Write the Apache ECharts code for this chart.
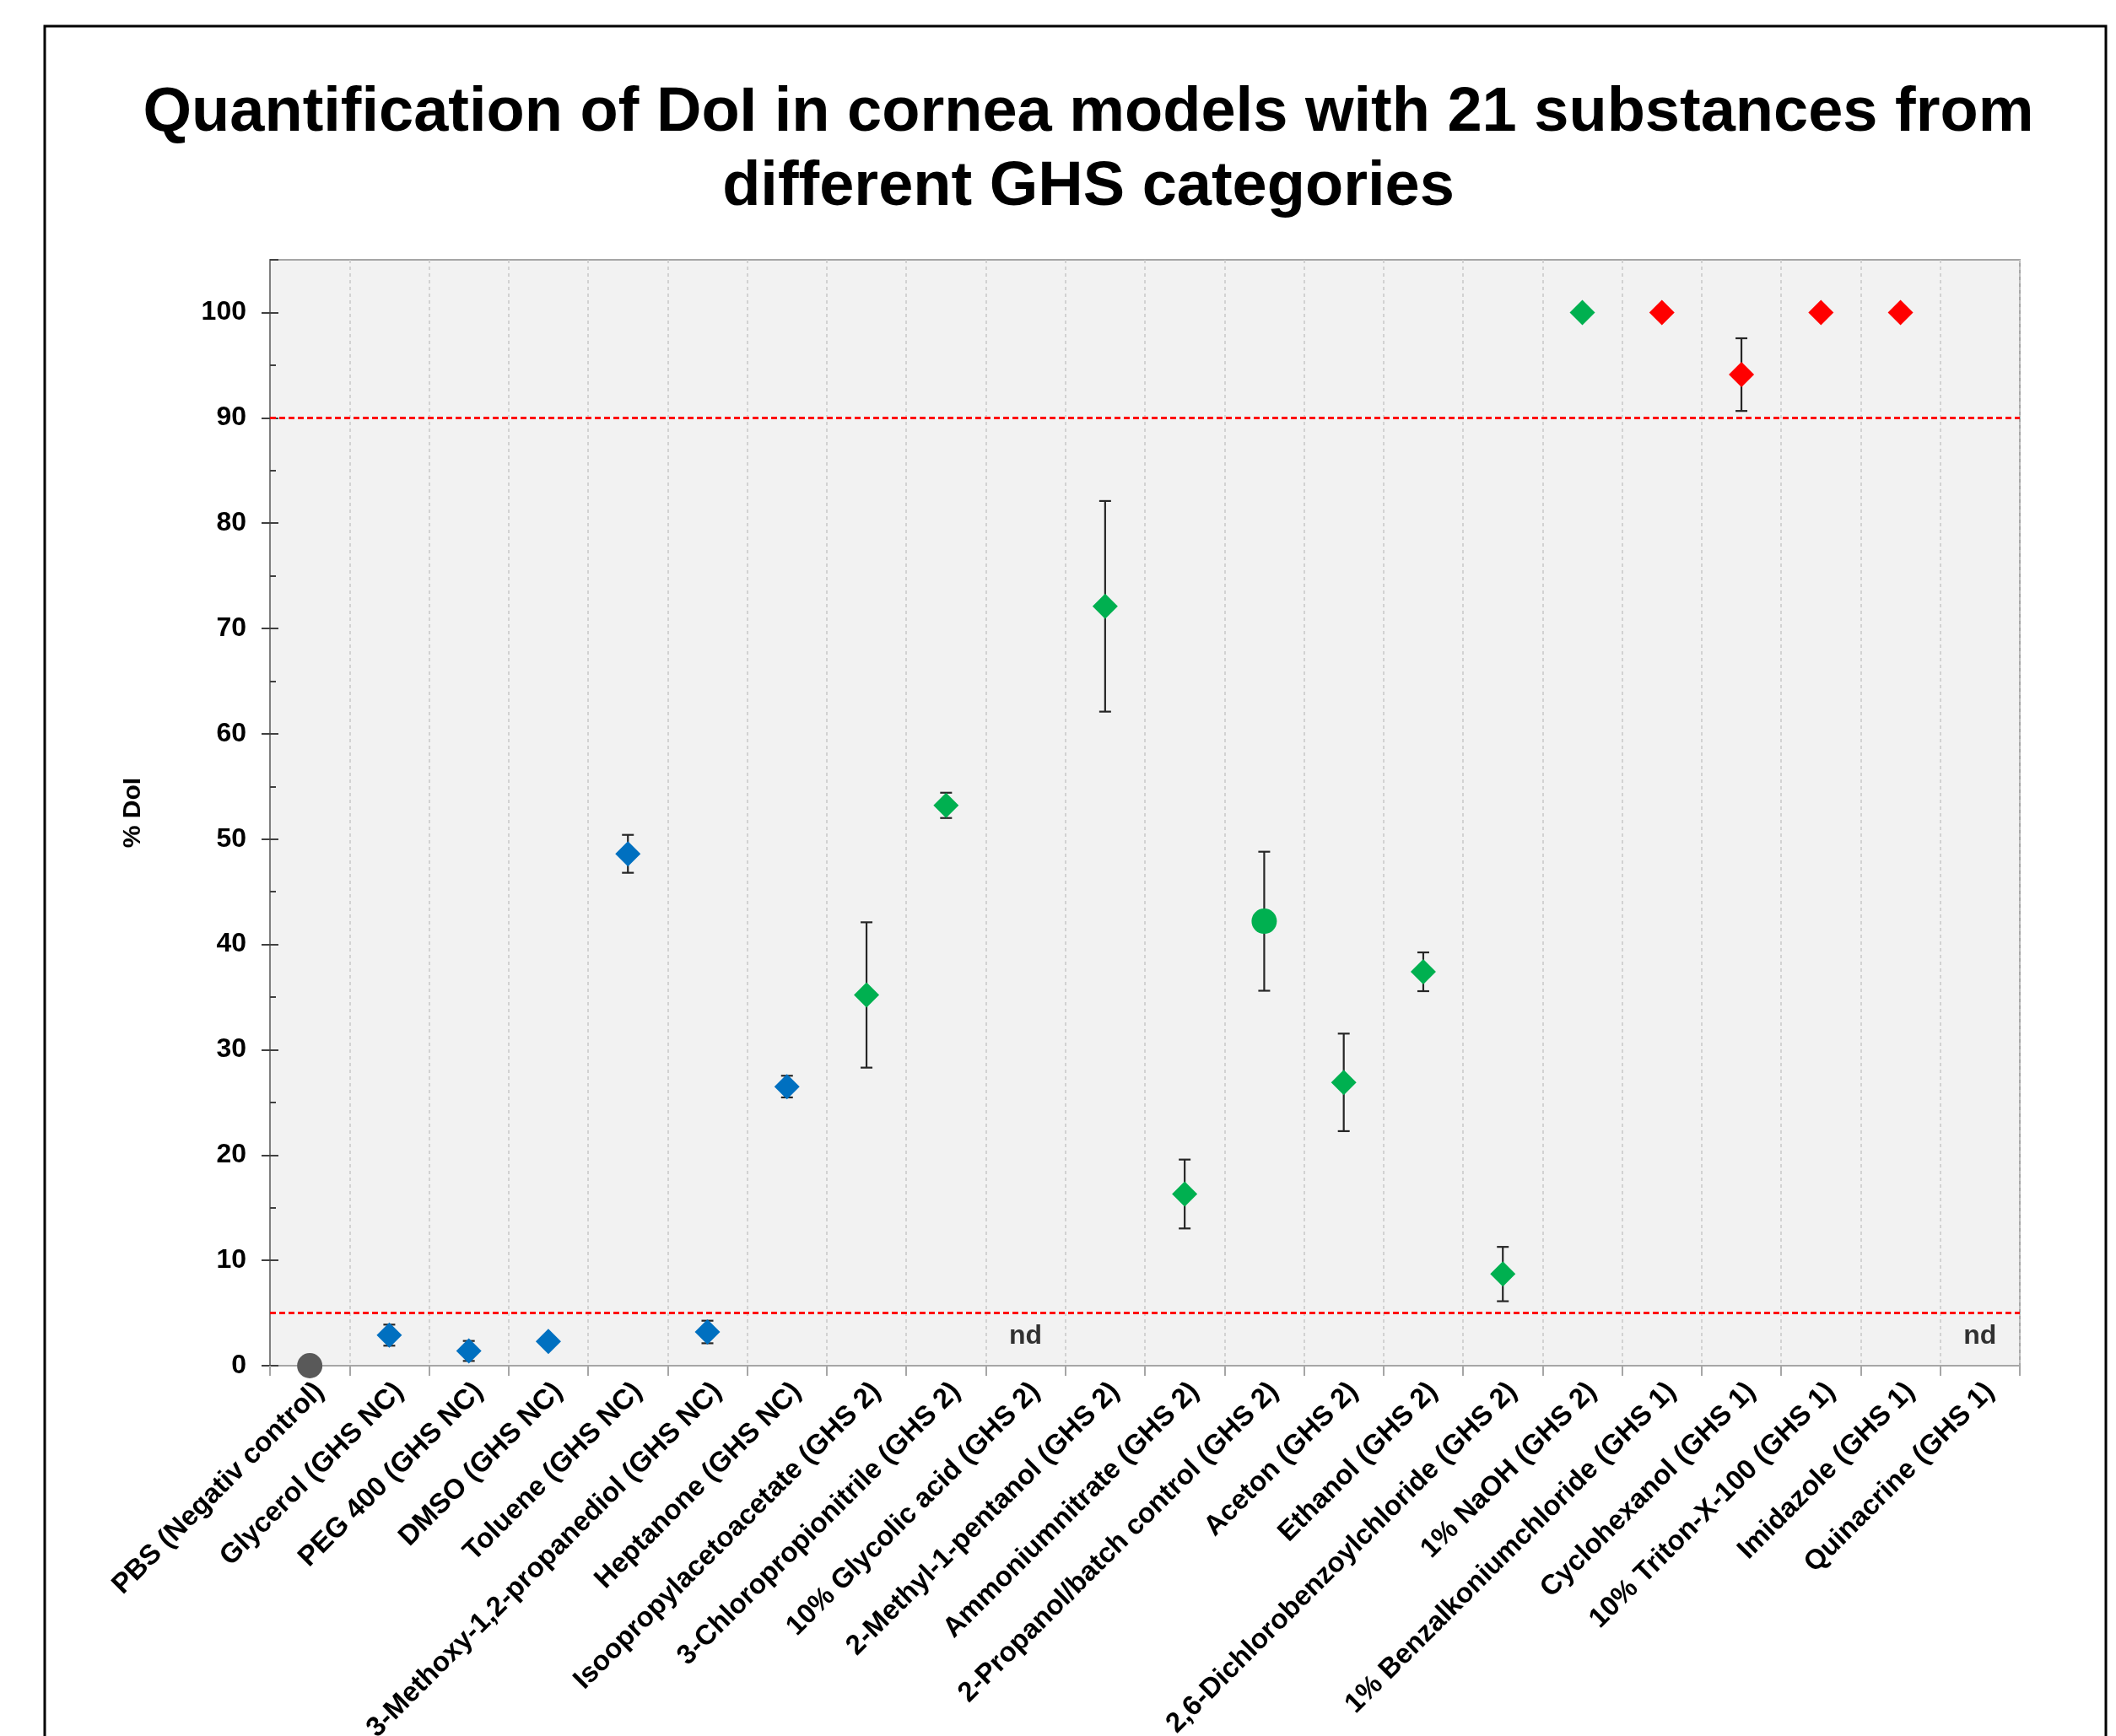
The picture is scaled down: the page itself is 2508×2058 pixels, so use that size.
<!DOCTYPE html>
<html>
<head>
<meta charset="utf-8">
<script src="https://cdn.jsdelivr.net/npm/echarts@6/dist/echarts.min.js"></script>
<style>
  html, body { margin: 0; padding: 0; background: #ffffff; }
  #chart { width: 2508px; height: 2058px; }
</style>
</head>
<body>
<div id="chart"></div>
<script>
// ---------------- data ----------------
const categories = [
  'PBS (Negativ control)', 'Glycerol (GHS NC)', 'PEG 400 (GHS NC)', 'DMSO (GHS NC)',
  'Toluene (GHS NC)', '3-Methoxy-1,2-propanediol (GHS NC)', 'Heptanone (GHS NC)',
  'Isoopropylacetoacetate (GHS 2)', '3-Chloropropionitrile (GHS 2)', '10% Glycolic acid (GHS 2)',
  '2-Methyl-1-pentanol (GHS 2)', 'Ammoniumnitrate (GHS 2)', '2-Propanol/batch control (GHS 2)',
  'Aceton (GHS 2)', 'Ethanol (GHS 2)', '2,6-Dichlorobenzoylchloride (GHS 2)', '1% NaOH (GHS 2)',
  '1% Benzalkoniumchloride (GHS 1)', 'Cyclohexanol (GHS 1)', '10% Triton-X-100 (GHS 1)',
  'Imidazole (GHS 1)', 'Quinacrine (GHS 1)'
];
// mean % DoI (null = not determined, "nd")
const dolMean = [0, 2.9, 1.4, 2.3, 48.6, 3.2, 26.5, 35.2, 53.2, null, 72.1, 16.3, 42.2, 26.9, 37.4, 8.7, 100, 100, 94.1, 100, 100, null];
// standard deviation (null = no error bar)
const dolSd = [null, 1.0, 0.95, null, 1.8, 1.07, 1.03, 6.9, 1.2, null, 10.0, 3.27, 6.6, 4.63, 1.84, 2.58, null, null, 3.45, null, null, null];
// marker group per substance
const markerGroup = ['neg', 'nc', 'nc', 'nc', 'nc', 'nc', 'nc', 'ghs2', 'ghs2', 'ghs2', 'ghs2', 'ghs2', 'batch', 'ghs2', 'ghs2', 'ghs2', 'ghs2', 'ghs1', 'ghs1', 'ghs1', 'ghs1', 'ghs1'];
const groupNames = ['neg', 'nc', 'ghs2', 'batch', 'ghs1'];
const groupColors = ['#595959', '#0070C0', '#00B050', '#00B050', '#FF0000'];
const groupSymbols = ['circle', 'diamond', 'diamond', 'circle', 'diamond'];
const thresholds = [5, 90];
const ndLabel = 'nd';
const ndLevel = 2.8;
const yMin = 0, yMax = 105, yInterval = 10;
const titleLines = ['Quantification of DoI in cornea models with 21 substances from', 'different GHS categories'];
const yAxisTitle = '% DoI';

// ---------------- chart ----------------
const FONT = '"Liberation Sans", Arial, sans-serif';
const chart = echarts.init(document.getElementById('chart'), null, { renderer: 'canvas' });

const scatterSeries = groupNames.map((g, gi) => ({
  type: 'scatter',
  name: g,
  symbol: groupSymbols[gi],
  symbolSize: 30,
  itemStyle: { color: groupColors[gi], opacity: 1 },
  clip: false,
  z: 5,
  data: categories.map((c, i) => (markerGroup[i] === g && dolMean[i] !== null) ? [i, dolMean[i]] : null)
                  .filter(d => d !== null)
}));

const errData = categories.map((c, i) => (dolSd[i] !== null && dolMean[i] !== null) ? [i, dolMean[i], dolSd[i]] : null)
                          .filter(d => d !== null);

const errorSeries = {
  type: 'custom',
  name: 'sd',
  z: 3,
  clip: false,
  data: errData,
  renderItem: function (params, api) {
    const x = api.value(0), m = api.value(1), s = api.value(2);
    const top = api.coord([x, m + s]);
    const bot = api.coord([x, m - s]);
    const cap = 7;
    const st = { stroke: '#262626', lineWidth: 2.2 };
    return {
      type: 'group',
      children: [
        { type: 'line', shape: { x1: top[0], y1: top[1], x2: bot[0], y2: bot[1] }, style: st },
        { type: 'line', shape: { x1: top[0] - cap, y1: top[1], x2: top[0] + cap, y2: top[1] }, style: st },
        { type: 'line', shape: { x1: bot[0] - cap, y1: bot[1], x2: bot[0] + cap, y2: bot[1] }, style: st }
      ]
    };
  }
};

const ndSeries = {
  type: 'scatter',
  name: 'nd',
  symbolSize: 0,
  z: 6,
  data: categories.map((c, i) => dolMean[i] === null ? [i, ndLevel] : null).filter(d => d !== null),
  label: {
    show: true, position: 'inside', formatter: ndLabel,
    color: '#000', fontFamily: FONT, fontWeight: 'bold', fontSize: 32
  }
};

const thresholdSeries = {
  type: 'line',
  name: 'thresholds',
  data: [],
  z: 4,
  markLine: {
    silent: true,
    symbol: 'none',
    label: { show: false },
    lineStyle: { color: '#FF0000', type: [7, 4], width: 2.8 },
    data: thresholds.map(t => ({ yAxis: t }))
  }
};

const option = {
  backgroundColor: '#ffffff',
  animation: false,
  graphic: [
    {
      type: 'rect', z: -10, silent: true,
      shape: { x: 53, y: 31, width: 2443, height: 2200 },
      style: { fill: 'none', stroke: '#000000', lineWidth: 3 }
    },
    {
      type: 'text', z: 10, x: 1290, y: 91,
      style: {
        text: titleLines.join('\n'), fill: '#000', align: 'center', verticalAlign: 'top',
        font: 'bold 74px ' + FONT, lineHeight: 88
      }
    }
  ],
  grid: {
    left: 320, top: 308, right: 114, bottom: 439,
    containLabel: false, outerBoundsMode: 'none',
    show: true, backgroundColor: '#F2F2F2', borderColor: '#A6A6A6', borderWidth: 2
  },
  xAxis: {
    type: 'category',
    data: categories,
    boundaryGap: true,
    axisLine: { show: true, lineStyle: { color: '#A6A6A6', width: 2 } },
    axisTick: { show: true, alignWithLabel: false, length: 12, lineStyle: { color: '#A6A6A6', width: 2 } },
    splitLine: { show: true, lineStyle: { color: '#C8C8C8', type: [4, 4], width: 1.5 } },
    axisLabel: {
      interval: 0, rotate: 45, margin: 14, hideOverlap: false,
      align: 'right', verticalAlign: 'top',
      color: '#000', fontFamily: FONT, fontWeight: 'bold', fontSize: 33
    }
  },
  yAxis: [
    {
      type: 'value', min: yMin, max: yMax, interval: yInterval,
      name: yAxisTitle, nameLocation: 'middle', nameRotate: 90, nameGap: 147,
      nameTextStyle: { color: '#000', fontFamily: FONT, fontWeight: 'bold', fontSize: 30 },
      axisLine: { show: true, lineStyle: { color: '#7F7F7F', width: 2 } },
      axisTick: { show: true, length: 10, lineStyle: { color: '#404040', width: 2 } },
      splitLine: { show: false },
      axisLabel: {
        showMaxLabel: false, margin: 28,
        color: '#000', fontFamily: FONT, fontWeight: 'bold', fontSize: 32
      }
    },
    {
      type: 'value', min: yMin, max: yMax, interval: yInterval, position: 'left',
      axisLine: { show: false },
      axisTick: { show: true, inside: true, length: 10, lineStyle: { color: '#404040', width: 2 } },
      minorTick: { show: true, splitNumber: 2, length: 7, lineStyle: { color: '#404040', width: 2 } },
      axisLabel: { show: false },
      splitLine: { show: false }
    }
  ],
  series: [thresholdSeries, errorSeries].concat(scatterSeries).concat([ndSeries])
};

chart.setOption(option);
</script>
</body>
</html>
